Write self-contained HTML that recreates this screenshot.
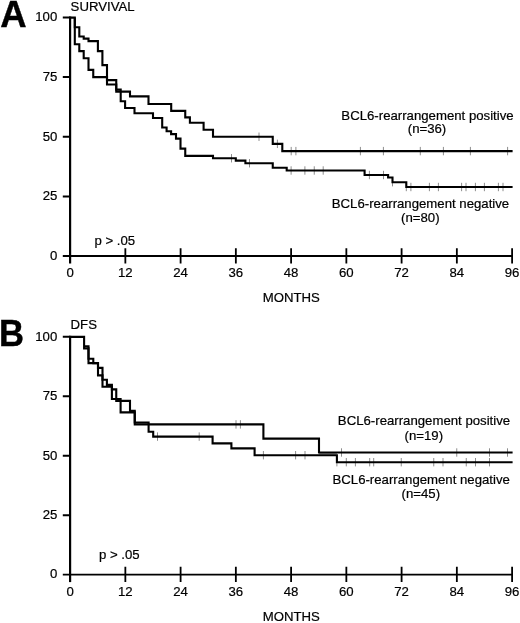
<!DOCTYPE html>
<html><head><meta charset="utf-8"><title>Figure</title>
<style>
html,body{margin:0;padding:0;background:#fff;}
body{width:520px;height:623px;overflow:hidden;}
svg{display:block;}
svg text{font-family:"Liberation Sans",Arial,Helvetica,sans-serif;font-size:13.2px;fill:#000;stroke:#000;stroke-width:0.2px;}
svg text.big{font-size:36.5px;font-weight:bold;stroke:#000;stroke-width:0.4px;}
</style></head><body>
<svg width="520" height="623" viewBox="0 0 520 623">
<rect width="520" height="623" fill="#fff"/>
<text class="big" x="0.3" y="26.7">A</text>
<text class="big" transform="translate(-0.9,345.9) scale(0.95,1)">B</text>
<path d="M70.1,16.4 V263.5" stroke="#000" stroke-width="2.2" fill="none"/>
<path d="M62.8,256.0 H512.1" stroke="#000" stroke-width="1.8" fill="none"/>
<path d="M62.8,17.50 H70.1 M62.8,77.12 H70.1 M62.8,136.75 H70.1 M62.8,196.38 H70.1 " stroke="#000" stroke-width="2" fill="none"/>
<path d="M125.35,248.2 V263.5 M180.60,248.2 V263.5 M235.85,248.2 V263.5 M291.10,248.2 V263.5 M346.35,248.2 V263.5 M401.60,248.2 V263.5 M456.85,248.2 V263.5 M512.10,248.2 V263.5 " stroke="#000" stroke-width="1.8" fill="none"/>
<text x="57.3" y="21.30" text-anchor="end">100</text>
<text x="57.3" y="80.92" text-anchor="end">75</text>
<text x="57.3" y="140.55" text-anchor="end">50</text>
<text x="57.3" y="200.18" text-anchor="end">25</text>
<text x="57.3" y="259.80" text-anchor="end">0</text>
<text x="70.10" y="277.10" text-anchor="middle">0</text>
<text x="125.35" y="277.10" text-anchor="middle">12</text>
<text x="180.60" y="277.10" text-anchor="middle">24</text>
<text x="235.85" y="277.10" text-anchor="middle">36</text>
<text x="291.10" y="277.10" text-anchor="middle">48</text>
<text x="346.35" y="277.10" text-anchor="middle">60</text>
<text x="401.60" y="277.10" text-anchor="middle">72</text>
<text x="456.85" y="277.10" text-anchor="middle">84</text>
<text x="512.10" y="277.10" text-anchor="middle">96</text>
<text x="291.3" y="302.00" text-anchor="middle">MONTHS</text>
<text x="70.6" y="10.50">SURVIVAL</text>
<text x="94.4" y="245.00">p &gt; .05</text>
<path transform="translate(0,0.5)" d="M70.4,17.1 H74.8 V26.8 H79.3 V36.0 H83.7 V38.1 H88.5 V40.6 H97.9 V50.6 H102.4 V64.6 H107 V84.0 H116.25 V91.1 H130 V95.9 H148.5 V103.5 H171.2 V110.4 H185.25 V116.9 H189.9 V122.25 H203.6 V129.3 H213 V136.25 H272.75 V143.35 H282.3 V150.6 H512.6" stroke="#000" stroke-width="2.1" fill="none" stroke-linejoin="miter" stroke-linecap="butt"/>
<path transform="translate(0,0.5)" d="M74.8,17.1 V43.8 H79.3 V50.6 H83.7 V57.7 H88.5 V69.35 H93.25 V76.6 H107 V79.6 H116.25 V89.1 H120.7 V100.7 H125.1 V107.5 H134.5 V112.75 H153 V117.5 H162.2 V127 H166.6 V130.8 H171.1 V133.6 H176 V138.1 H180.5 V148.1 H185.25 V155.4 H213 V157.75 H235.8 V160.15 H245.4 V162.75 H272.75 V167.3 H286.7 V170.0 H364.6 V174.5 H388.1 V177 H392.5 V181.7 H406.3 V186.5 H512.6" stroke="#000" stroke-width="2.1" fill="none" stroke-linejoin="miter" stroke-linecap="butt"/>
<path transform="translate(0,0.5)" d="M259,132.05 V140.45 M277.4,139.15 V147.54999999999998 M291.2,146.4 V154.79999999999998 M295.9,146.4 V154.79999999999998 M360.4,146.4 V154.79999999999998 M383.4,146.4 V154.79999999999998 M420.3,146.4 V154.79999999999998 M443.4,146.4 V154.79999999999998 M470.4,146.4 V154.79999999999998 M507.6,146.4 V154.79999999999998 M231.5,153.55 V161.95 M249.5,158.55 V166.95 M291.1,165.8 V174.2 M304.9,165.8 V174.2 M314.25,165.8 V174.2 M323.2,165.8 V174.2 M369.4,170.3 V178.7 M383.5,170.3 V178.7 M392.5,177.5 V185.89999999999998 M406.3,182.3 V190.7 M410.9,182.3 V190.7 M429.4,182.3 V190.7 M438.4,182.3 V190.7 M461.6,182.3 V190.7 M466,182.3 V190.7 M475.4,182.3 V190.7 M484.4,182.3 V190.7 M498.4,182.3 V190.7 M503,182.3 V190.7 " stroke="#000" stroke-opacity="0.5" stroke-width="0.9" fill="none"/>
<text x="427.5" y="119.80" text-anchor="middle">BCL6-rearrangement positive</text>
<text x="427" y="133.40" text-anchor="middle">(n=36)</text>
<text x="420.5" y="208.40" text-anchor="middle">BCL6-rearrangement negative</text>
<text x="420.3" y="222.40" text-anchor="middle">(n=80)</text>
<path d="M70.1,335.7 V582.1" stroke="#000" stroke-width="2.2" fill="none"/>
<path d="M62.8,574.6 H512.1" stroke="#000" stroke-width="1.8" fill="none"/>
<path d="M62.8,336.80 H70.1 M62.8,396.25 H70.1 M62.8,455.70 H70.1 M62.8,515.15 H70.1 " stroke="#000" stroke-width="2" fill="none"/>
<path d="M125.35,566.8000000000001 V582.1 M180.60,566.8000000000001 V582.1 M235.85,566.8000000000001 V582.1 M291.10,566.8000000000001 V582.1 M346.35,566.8000000000001 V582.1 M401.60,566.8000000000001 V582.1 M456.85,566.8000000000001 V582.1 M512.10,566.8000000000001 V582.1 " stroke="#000" stroke-width="1.8" fill="none"/>
<text x="57.3" y="340.60" text-anchor="end">100</text>
<text x="57.3" y="400.05" text-anchor="end">75</text>
<text x="57.3" y="459.50" text-anchor="end">50</text>
<text x="57.3" y="518.95" text-anchor="end">25</text>
<text x="57.3" y="578.40" text-anchor="end">0</text>
<text x="70.10" y="596.00" text-anchor="middle">0</text>
<text x="125.35" y="596.00" text-anchor="middle">12</text>
<text x="180.60" y="596.00" text-anchor="middle">24</text>
<text x="235.85" y="596.00" text-anchor="middle">36</text>
<text x="291.10" y="596.00" text-anchor="middle">48</text>
<text x="346.35" y="596.00" text-anchor="middle">60</text>
<text x="401.60" y="596.00" text-anchor="middle">72</text>
<text x="456.85" y="596.00" text-anchor="middle">84</text>
<text x="512.10" y="596.00" text-anchor="middle">96</text>
<text x="291.3" y="620.60" text-anchor="middle">MONTHS</text>
<text x="70.6" y="329.10">DFS</text>
<text x="99" y="559.40">p &gt; .05</text>
<path transform="translate(0,0.4)" d="M70.4,336.5 H84.1 V348.0 H88.5 V362.75 H98 V375 H102.5 V386.4 H111.9 V398.6 H120.6 V412 H134.75 V424.0 H263.4 V438.2 H319 V452.1 H512.6" stroke="#000" stroke-width="2.1" fill="none" stroke-linejoin="miter" stroke-linecap="butt"/>
<path transform="translate(0,0.4)" d="M84.1,345.8 H88.5 V358.3 H93.3 V362.75 H98 V367.5 H102.5 V379.3 H106.9 V384.5 H111.9 V389 H116.25 V400.5 H130 V410.5 H134.75 V422.1 H148.6 V431.3 H153.2 V436.2 H212.6 V443 H231.4 V448 H254.6 V454.8 H336.9 V461.8 H512.6" stroke="#000" stroke-width="2.1" fill="none" stroke-linejoin="miter" stroke-linecap="butt"/>
<path transform="translate(0,0.4)" d="M236,419.8 V428.2 M240.4,419.8 V428.2 M341.5,447.90000000000003 V456.3 M456.75,447.90000000000003 V456.3 M489.5,447.90000000000003 V456.3 M507.5,447.90000000000003 V456.3 M157.5,432.0 V440.4 M199.2,432.0 V440.4 M263.4,450.6 V459.0 M295.6,450.6 V459.0 M305,450.6 V459.0 M336.9,457.6 V466.0 M346.3,457.6 V466.0 M355.4,457.6 V466.0 M369.7,457.6 V466.0 M373.7,457.6 V466.0 M401.25,457.6 V466.0 M433.75,457.6 V466.0 M443,457.6 V466.0 M466.25,457.6 V466.0 M475.5,457.6 V466.0 M489.5,457.6 V466.0 " stroke="#000" stroke-opacity="0.5" stroke-width="0.9" fill="none"/>
<text x="424" y="425.40" text-anchor="middle">BCL6-rearrangement positive</text>
<text x="423.8" y="440.40" text-anchor="middle">(n=19)</text>
<text x="421.2" y="484.40" text-anchor="middle">BCL6-rearrangement negative</text>
<text x="420.8" y="498.40" text-anchor="middle">(n=45)</text>
<path transform="translate(0,0.4)" d="M319,453.45 H336.9" stroke="#000" stroke-opacity="0.7" stroke-width="0.9" fill="none"/>
</svg>
</body></html>
